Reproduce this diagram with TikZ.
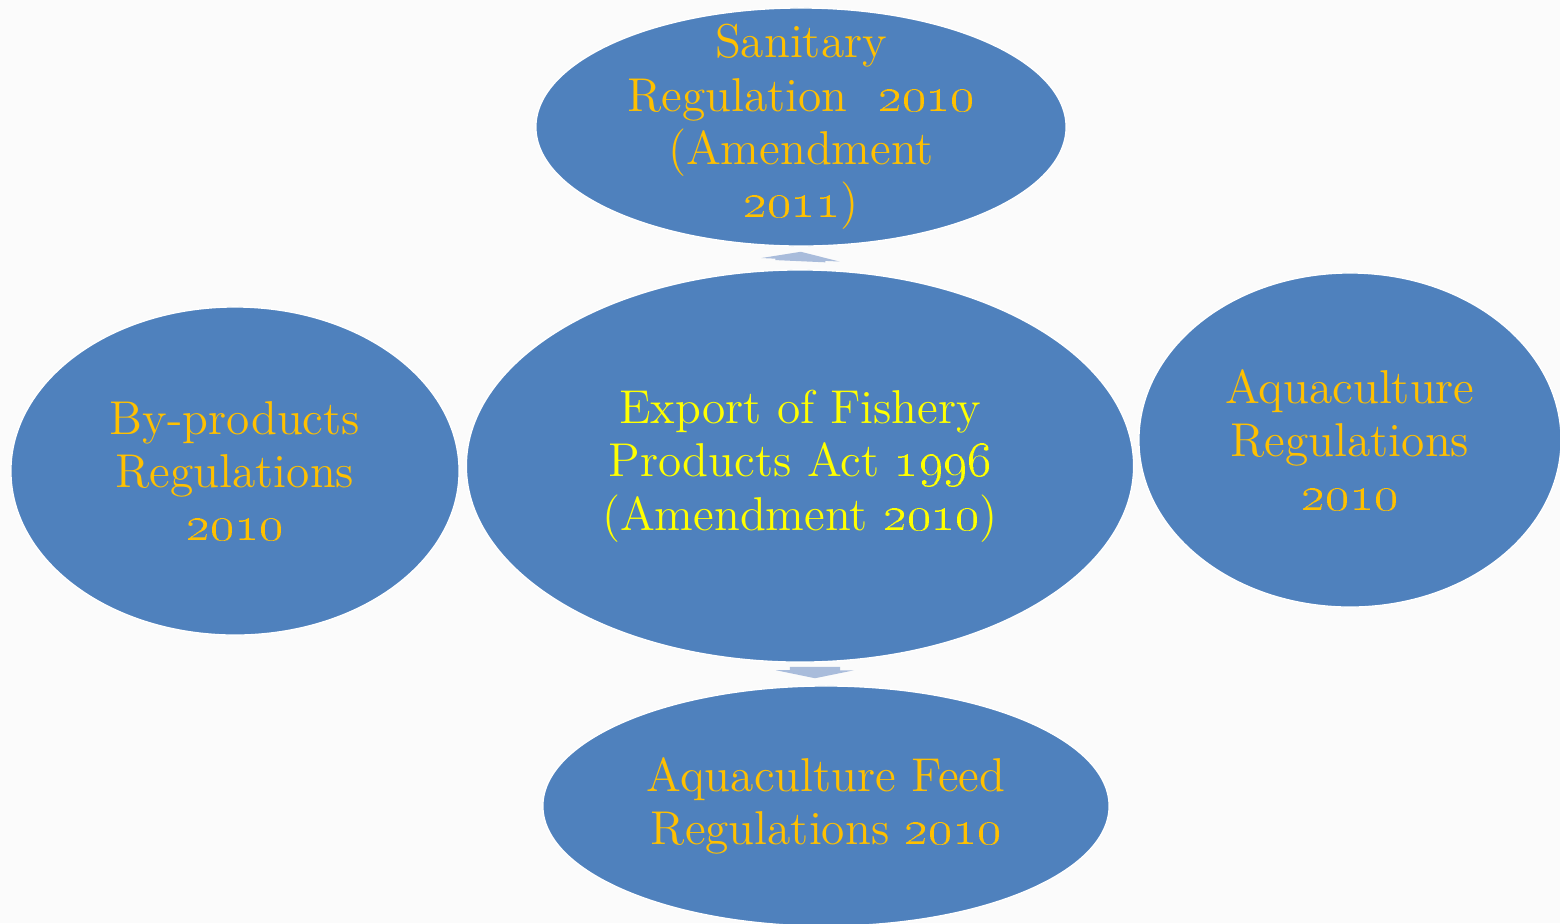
\documentclass[tikz,border=0pt]{standalone}
\usetikzlibrary{shapes.geometric}
\usetikzlibrary{arrows.meta}
\definecolor{reg-blue}{HTML}{4F81BD}
\definecolor{reg-gold}{HTML}{FFC000}
\definecolor{reg-yellow}{HTML}{FFFF00}
\definecolor{reg-arrow}{HTML}{A9BCDB}
\tikzset{
  reg/.style 2 args={
    ellipse,
    draw=white,
    fill=reg-blue,
    minimum width=#1,
    minimum height=#2,
    inner sep=0pt},
  regtext/.style={
    align=center,
    text=reg-gold,
    inner sep=0pt,
    font=\fontsize{13.5}{15.2}\selectfont},
  blockarr/.style={
    draw=reg-arrow,
    line width=0.5cm,
    -{Triangle[width=0.78cm,length=0.08cm]}},
}
\newcommand{\yr}[1]{\oldstylenums{#1}}

\begin{document}
\begin{tikzpicture}[x=0.01cm, y=-0.01cm]
  \fill[gray!3] (0,0) rectangle (1560,923);
  \useasboundingbox (0,0) rectangle (1560,923);

  \node[reg={6.67cm}{3.92cm}] (act) at (800,466) {};
  \node[reg={5.30cm}{2.38cm}] (sanitary) at (801,127) {};
  \node[reg={4.48cm}{3.28cm}] (byprod) at (235,471) {};
  \node[reg={4.22cm}{3.34cm}] (aqua) at (1350,440) {};
  \node[reg={5.66cm}{2.40cm}] (feed) at (826,806) {};

  \node[regtext, text=reg-yellow] (act-t) at (act)
    {Export of Fishery\\Products Act \yr{1996}\\(Amendment \yr{2010})};
  \node[regtext] (sanitary-t) at (sanitary)
    {Sanitary\\Regulation \ \yr{2010}\\(Amendment\\\yr{2011})};
  \node[regtext] (byprod-t) at (byprod)
    {By-products\\Regulations\\\yr{2010}};
  \node[regtext] (aqua-t) at (aqua)
    {Aquaculture\\Regulations\\\yr{2010}};
  \node[regtext] (feed-t) at (feed)
    {Aquaculture Feed\\Regulations \yr{2010}};

  % links
  \draw[blockarr, shorten <=0.08cm, shorten >=0.05cm] (act.north) -- (sanitary.south);
  \draw[blockarr, shorten <=0.04cm, shorten >=0.07cm] ([xshift=0.15cm]act.south) -- ([xshift=-0.11cm]feed.north);
\end{tikzpicture}
\end{document}
